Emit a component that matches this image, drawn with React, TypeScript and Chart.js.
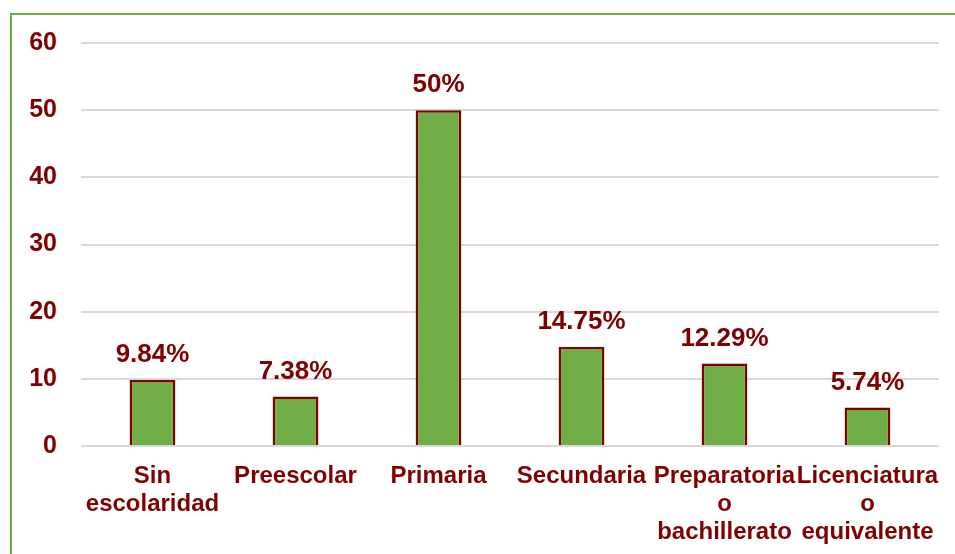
import React, { useEffect, useRef } from "react";
import { Chart, registerables } from "chart.js";

Chart.register(...registerables);

const categories: (string | string[])[] = [
  ["Sin", "escolaridad"],
  "Preescolar",
  "Primaria",
  "Secundaria",
  ["Preparatoria", "o", "bachillerato"],
  ["Licenciatura", "o", "equivalente"],
];
const values = [9.84, 7.38, 50, 14.75, 12.29, 5.74];
const valueLabels = ["9.84%", "7.38%", "50%", "14.75%", "12.29%", "5.74%"];
const yTicks = [0, 10, 20, 30, 40, 50, 60];

const DARK_RED = "#800000";
const GREEN = "#70AD47";
const FONT = "'Liberation Sans', Arial, sans-serif";

const dataLabelPlugin = {
  id: "dataLabels",
  afterDatasetsDraw(chart: any) {
    const ctx = chart.ctx;
    const meta = chart.getDatasetMeta(0);
    ctx.save();
    ctx.fillStyle = DARK_RED;
    ctx.font = `bold 26px ${FONT}`;
    ctx.textAlign = "center";
    ctx.textBaseline = "middle";
    meta.data.forEach((bar: any, i: number) => {
      ctx.fillText(valueLabels[i], bar.x, bar.y - 25);
    });
    ctx.restore();
  },
};

export default function App() {
  const ref = useRef<HTMLCanvasElement>(null);
  useEffect(() => {
    if (!ref.current) return;
    const chart = new Chart(ref.current, {
      type: "bar",
      data: {
        labels: categories as any,
        datasets: [
          {
            data: values,
            backgroundColor: GREEN,
            borderColor: DARK_RED,
            borderWidth: 2.5,
            categoryPercentage: 1,
            barPercentage: 0.32,
          },
        ],
      },
      options: {
        animation: false,
        responsive: false,
        maintainAspectRatio: false,
        layout: { padding: { left: 0, right: 16, top: 43, bottom: 0 } },
        plugins: {
          legend: { display: false },
          tooltip: { enabled: false },
        },
        scales: {
          x: {
            grid: { display: false },
            border: { display: false },
            ticks: {
              color: DARK_RED,
              font: { family: FONT, size: 24, weight: "bold", lineHeight: 1.17 },
              padding: 8,
              maxRotation: 0,
              autoSkip: false,
            },
            afterFit(scale: any) {
              scale.height = 108;
              scale.paddingLeft = 0;
              scale.paddingRight = 0;
            },
          },
          y: {
            min: 0,
            max: 60,
            afterBuildTicks(scale: any) {
              scale.ticks = yTicks.map((v) => ({ value: v }));
            },
            grid: { color: "#D9D9D9", lineWidth: 2, drawTicks: false },
            border: { display: false },
            ticks: {
              color: DARK_RED,
              font: { family: FONT, size: 25, weight: "bold" },
              padding: 24,
            },
            afterFit(scale: any) {
              scale.width = 81;
            },
          },
        },
      },
      plugins: [dataLabelPlugin],
    });
    return () => chart.destroy();
  }, []);

  return (
    <div style={{ position: "fixed", left: 0, top: 0, width: 955, height: 554, overflow: "hidden", background: "#fff" }}>
      <div
        style={{
          position: "absolute",
          left: 10,
          top: 13,
          width: 1000,
          height: 600,
          borderLeft: `2px solid ${GREEN}`,
          borderTop: `2px solid ${GREEN}`,
        }}
      />
      <canvas ref={ref} width={955} height={554} style={{ position: "absolute", left: 0, top: 0, width: 955, height: 554 }} />
    </div>
  );
}
